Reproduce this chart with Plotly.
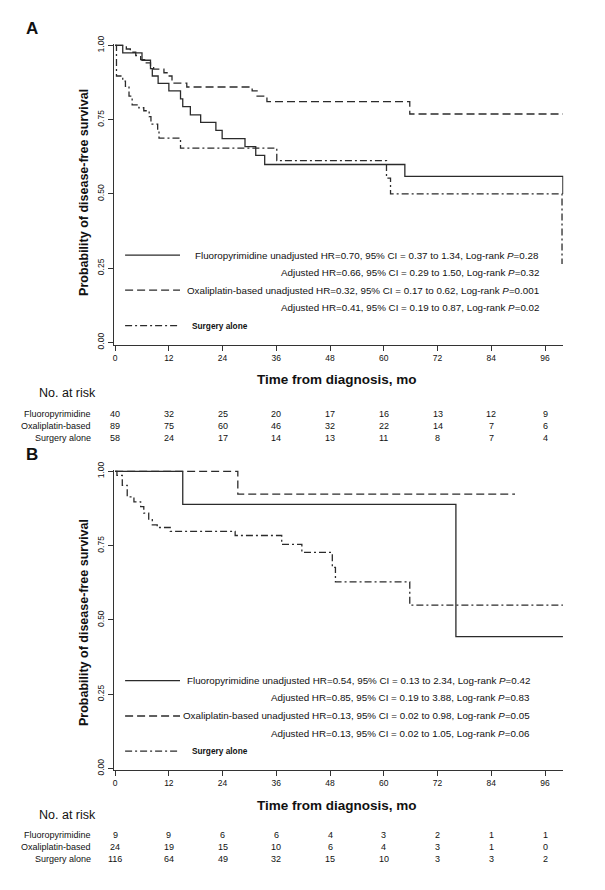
import plotly.graph_objects as go

W, H = 605, 890

# ---------------- Panel A data ----------------
a_fluoro_t = [0, 1.7, 6.0, 7.9, 8.3, 9.6, 12.0, 14.6, 15.1, 16.8, 19.1, 22.5, 23.9, 29.0, 31.4, 33.4, 64.7, 100.0]
a_fluoro_s = [1.0, 0.975, 0.95, 0.922, 0.897, 0.872, 0.847, 0.82, 0.794, 0.766, 0.741, 0.714, 0.686, 0.659, 0.630, 0.599, 0.559, 0.50]
a_oxali_t = [0, 2.5, 3.4, 4.6, 5.7, 6.6, 7.9, 8.6, 10.9, 11.6, 12.7, 16.0, 30.6, 31.7, 33.9, 65.8, 100.0]
a_oxali_s = [1.0, 0.988, 0.977, 0.966, 0.952, 0.941, 0.93, 0.92, 0.908, 0.897, 0.873, 0.860, 0.847, 0.829, 0.811, 0.769, 0.769]
a_surg_t = [0, 0.3, 1.7, 2.3, 3.1, 3.8, 5.3, 6.4, 7.6, 8.0, 9.5, 9.8, 14.6, 36.1, 60.6, 61.5, 99.8]
a_surg_s = [1.0, 0.897, 0.88, 0.862, 0.829, 0.80, 0.79, 0.78, 0.76, 0.735, 0.714, 0.688, 0.654, 0.612, 0.553, 0.50, 0.264]

# ---------------- Panel B data ----------------
b_fluoro_t = [0, 15.1, 76.1, 100.0]
b_fluoro_s = [1.0, 0.889, 0.444, 0.444]
b_oxali_t = [0, 27.4, 89.3]
b_oxali_s = [1.0, 0.923, 0.923]
b_surg_t = [0, 0.4, 1.6, 2.7, 4.2, 5.7, 6.4, 7.5, 8.3, 9.4, 12.3, 26.8, 37.2, 41.7, 48.5, 49.2, 65.8, 100.0]
b_surg_s = [1.0, 0.986, 0.953, 0.914, 0.897, 0.881, 0.859, 0.837, 0.82, 0.811, 0.798, 0.784, 0.754, 0.727, 0.677, 0.628, 0.55, 0.55]

# ---------------- Risk tables ----------------
risk_times = [0, 12, 24, 36, 48, 60, 72, 84, 96]
risk_groups = ["Fluoropyrimidine", "Oxaliplatin-based", "Surgery alone"]
a_risk_fluoro = [40, 32, 25, 20, 17, 16, 13, 12, 9]
a_risk_oxali = [89, 75, 60, 46, 32, 22, 14, 7, 6]
a_risk_surg = [58, 24, 17, 14, 13, 11, 8, 7, 4]
b_risk_fluoro = [9, 9, 6, 6, 4, 3, 2, 1, 1]
b_risk_oxali = [24, 19, 15, 10, 6, 4, 3, 1, 0]
b_risk_surg = [116, 64, 49, 32, 15, 10, 3, 3, 2]

# ---------------- Tick labels / texts ----------------
y_tickvals = [0, 0.25, 0.5, 0.75, 1.0]
y_ticktext = ["0.00", "0.25", "0.50", "0.75", "1.00"]
x_tickvals = [0, 12, 24, 36, 48, 60, 72, 84, 96]

a_legend = [
    "Fluoropyrimidine unadjusted HR=0.70, 95% CI = 0.37 to 1.34, Log-rank <i>P</i>=0.28",
    "Adjusted HR=0.66, 95% CI = 0.29 to 1.50, Log-rank <i>P</i>=0.32",
    "Oxaliplatin-based unadjusted HR=0.32, 95% CI = 0.17 to 0.62, Log-rank <i>P</i>=0.001",
    "Adjusted HR=0.41, 95% CI = 0.19 to 0.87, Log-rank <i>P</i>=0.02",
]
b_legend = [
    "Fluoropyrimidine unadjusted HR=0.54, 95% CI = 0.13 to 2.34, Log-rank <i>P</i>=0.42",
    "Adjusted HR=0.85, 95% CI = 0.19 to 3.88, Log-rank <i>P</i>=0.83",
    "Oxaliplatin-based unadjusted HR=0.13, 95% CI = 0.02 to 0.98, Log-rank <i>P</i>=0.05",
    "Adjusted HR=0.13, 95% CI = 0.02 to 1.05, Log-rank <i>P</i>=0.06",
]
surgery_label = "Surgery alone"
y_title = "Probability of disease-free survival"
x_title = "Time from diagnosis, mo"

FONT = "Liberation Sans, Arial, sans-serif"
LINE_C = "#2b2b2b"
AX_C = "#333333"
SOLID = "solid"
DASH = "8px,4px"
DASHDOT = "7px,3px,2px,3px"


def px(x):
    return x / W


def py(y):
    return 1 - y / H


fig = go.Figure()

panels = [
    ("x", "y", [(a_fluoro_t, a_fluoro_s, SOLID), (a_oxali_t, a_oxali_s, DASH), (a_surg_t, a_surg_s, DASHDOT)]),
    ("x2", "y2", [(b_fluoro_t, b_fluoro_s, SOLID), (b_oxali_t, b_oxali_s, DASH), (b_surg_t, b_surg_s, DASHDOT)]),
]
for xa, ya, series in panels:
    for t, s, d in series:
        fig.add_trace(go.Scatter(x=t, y=s, xaxis=xa, yaxis=ya, mode="lines",
                                 line=dict(shape="hv", color=LINE_C, width=1.3, dash=d),
                                 hoverinfo="skip"))

axis_common = dict(showline=True, linecolor=AX_C, linewidth=1.2, ticks="outside",
                   ticklen=5, tickwidth=1, tickcolor=AX_C, showgrid=False, zeroline=False,
                   tickfont=dict(family=FONT, size=8.5, color="#111"))

xdom = [px(113.2), px(563.3)]
xrange = [-0.25, 100.1]

fig.update_layout(
    width=W, height=H, margin=dict(l=0, r=0, t=0, b=0),
    paper_bgcolor="white", plot_bgcolor="white", showlegend=False,
    xaxis=dict(domain=xdom, range=xrange, tickvals=x_tickvals, anchor="y", **axis_common),
    yaxis=dict(domain=[py(342), py(36.5)], range=[-0.0076, 1.005], tickvals=y_tickvals,
               ticktext=y_ticktext, tickangle=-90, anchor="x", **axis_common),
    xaxis2=dict(domain=xdom, range=xrange, tickvals=x_tickvals, anchor="y2", **axis_common),
    yaxis2=dict(domain=[py(774), py(469.2)], range=[-0.0043, 1.005], tickvals=y_tickvals,
                ticktext=y_ticktext, tickangle=-90, anchor="x2", **axis_common),
)

ann = []
shapes = []


def text(x, y, s, size, xanchor="center", bold=False, angle=0, xref="paper"):
    ann.append(dict(x=x if xref != "paper" else px(x), y=py(y), xref=xref, yref="paper",
                    text=f"<b>{s}</b>" if bold else s, showarrow=False,
                    xanchor=xanchor, yanchor="middle", textangle=angle,
                    font=dict(family=FONT, size=size, color="#111")))


panel_cfg = [
    dict(letter="A", letter_y=21, ytitle_y=187, xtitle_y=377.7, nrisk_y=391,
         rows=[412.3, 424.6, 436.5], risks=[a_risk_fluoro, a_risk_oxali, a_risk_surg],
         legend=a_legend, leg_rows=[251, 269, 286.7, 304.3, 322.7], leg_right=541, xref="x"),
    dict(letter="B", letter_y=454, ytitle_y=624, xtitle_y=810.4, nrisk_y=820,
         rows=[840.4, 852.7, 865.0], risks=[b_risk_fluoro, b_risk_oxali, b_risk_surg],
         legend=b_legend, leg_rows=[683.3, 701, 719.3, 737, 755], leg_right=532.3, xref="x2"),
]

for cfg in panel_cfg:
    text(31, cfg["letter_y"], cfg["letter"], 17, bold=True)
    text(83, cfg["ytitle_y"], y_title, 12.5, bold=True, angle=-90)
    text(337, cfg["xtitle_y"], x_title, 13.5, bold=True)
    text(36.5, cfg["nrisk_y"], "No. at risk", 12.5, xanchor="left")
    for label, row_y, vals in zip(risk_groups, cfg["rows"], cfg["risks"]):
        text(92.3, row_y, label, 9, xanchor="right")
        for t, v in zip(risk_times, vals):
            text(t, row_y, str(v), 9, xref=cfg["xref"])
    lr = cfg["leg_rows"]
    for i, s in enumerate(cfg["legend"]):
        text(cfg["leg_right"], lr[i], s, 9.8, xanchor="right")
    text(189.3, lr[4], surgery_label, 8.3, xanchor="left", bold=True)
    for yy, d in [(lr[0], SOLID), (lr[2], DASH), (lr[4], DASHDOT)]:
        shapes.append(dict(type="line", xref="paper", yref="paper", x0=px(124.3), x1=px(179.3),
                           y0=py(yy), y1=py(yy), line=dict(color=LINE_C, width=1.3, dash=d)))

fig.update_layout(annotations=ann, shapes=shapes)
fig.write_html("out.html", config={"displayModeBar": False, "staticPlot": True},
               post_script="document.body.style.margin='0';document.body.style.overflow='hidden';")
